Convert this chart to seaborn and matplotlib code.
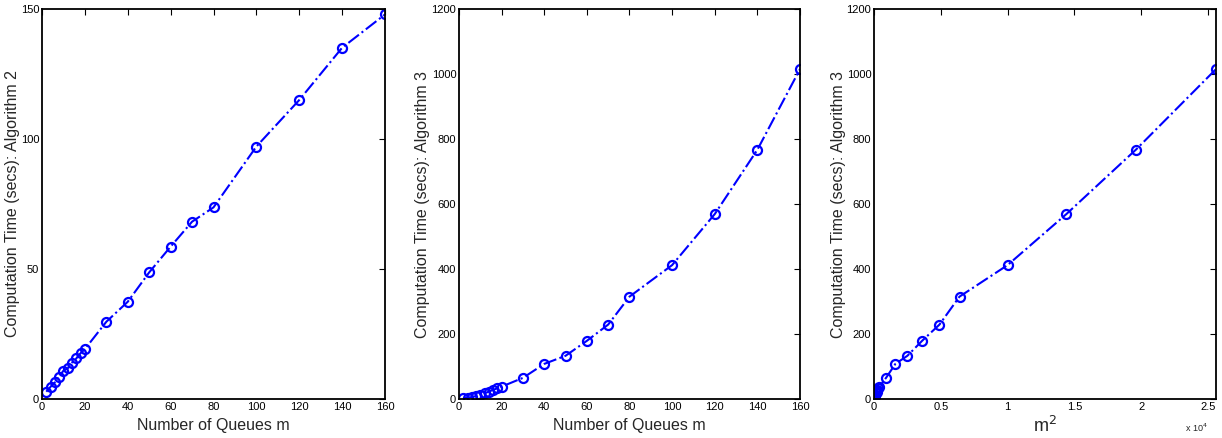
import numpy as np
import pandas as pd
import matplotlib
matplotlib.use("Agg")
import matplotlib.pyplot as plt
import seaborn as sns

queues_m = [2, 4, 6, 8, 10, 12, 14, 16, 18, 20, 30, 40, 50, 60, 70, 80, 100, 120, 140, 160]
time_alg2 = [2.8, 4.7, 6.4, 8.6, 10.9, 11.8, 14.0, 15.6, 17.6, 19.2, 29.7, 37.4, 48.7, 58.6,
             68.2, 73.7, 97.1, 115.0, 135.1, 147.9]
time_alg3 = [3, 4, 6, 9, 13, 17, 23, 28, 33, 38, 65, 108, 133, 179, 229, 315, 412, 569, 767, 1015]

sns.set_theme(style="white")
plt.rcParams['font.family'] = ['Liberation Sans', 'DejaVu Sans']

df = pd.DataFrame({"m": queues_m, "m2": [v * v for v in queues_m],
                   "alg2": time_alg2, "alg3": time_alg3})

fig = plt.figure(figsize=(12.22, 4.38), dpi=100)
W, H = 1222, 438
boxes = [(42, 385, 13), (459, 800, 423), (874, 1216, 838)]
top, bottom = 9, 399
axes = []
for l, r, lab in boxes:
    ax = fig.add_axes([l / W, 1 - bottom / H, (r - l) / W, (bottom - top) / H])
    axes.append((ax, (lab - l) / (r - l)))

specs = [
    ("m", "alg2", "Number of Queues m", "Computation Time (secs): Algorithm 2",
     (0, 160), (0, 150), [0, 20, 40, 60, 80, 100, 120, 140, 160], [0, 50, 100, 150]),
    ("m", "alg3", "Number of Queues m", "Computation Time (secs): Algorithm 3",
     (0, 160), (0, 1200), [0, 20, 40, 60, 80, 100, 120, 140, 160], [0, 200, 400, 600, 800, 1000, 1200]),
    ("m2", "alg3", "m$^2$", "Computation Time (secs): Algorithm 3",
     (0, 25600), (0, 1200), [0, 5000, 10000, 15000, 20000, 25000], [0, 200, 400, 600, 800, 1000, 1200]),
]

for (ax, labx), (xc, yc, xl, yl, xlim, ylim, xt, yt) in zip(axes, specs):
    sns.lineplot(data=df, x=xc, y=yc, ax=ax, color="#0000ff", linestyle="-.",
                 linewidth=1.5, marker="o", markersize=6.5, markerfacecolor="none",
                 markeredgecolor="#0000ff", markeredgewidth=1.6, sort=False)
    ax.set_xlim(*xlim)
    ax.set_ylim(*ylim)
    ax.set_xticks(xt)
    ax.set_yticks(yt)
    ax.set_xlabel(xl, fontsize=11.5)
    ax.set_ylabel(yl, fontsize=11.5)
    ax.yaxis.set_label_coords(labx, 0.5)
    ax.xaxis.set_label_coords(0.5, -0.068)
    ax.xaxis.label.set_va("center")
    ax.yaxis.label.set_va("center")
    ax.tick_params(direction="in", length=4, width=0.8, labelsize=8, top=True, right=True,
                   pad=2, colors="black")
    for s in ax.spines.values():
        s.set_color("black")
        s.set_linewidth(1.3)

ax3 = axes[2][0]
ax3.set_xticklabels(["0", "0.5", "1", "1.5", "2", "2.5"])
ax3.text(1.0 - 8 / 342, -0.074, "x 10$^4$", transform=ax3.transAxes, ha="right", va="center", fontsize=6.5)
ax3.set_xlabel("m$^2$", fontsize=13)
ax3.xaxis.set_label_coords(0.5, -0.07)
ax3.xaxis.label.set_va("center")

fig.savefig("out.png", dpi=100, facecolor="white")
